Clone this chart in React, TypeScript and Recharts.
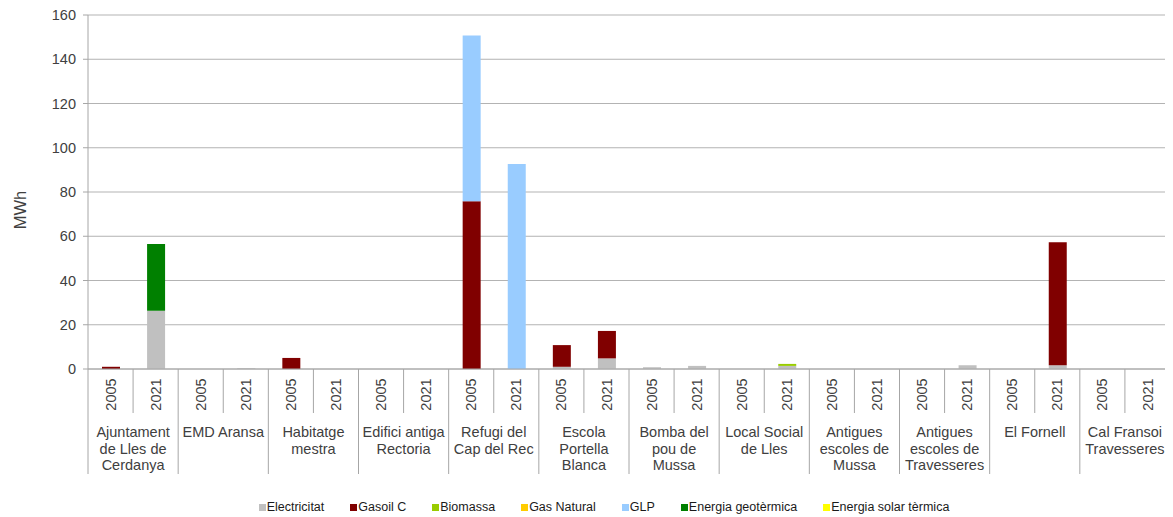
import React from 'react';
import { BarChart, Bar, XAxis, YAxis, CartesianGrid, Legend } from 'recharts';

const buildings = [
  'Ajuntament\nde Lles de\nCerdanya',
  'EMD Aransa',
  'Habitatge\nmestra',
  'Edifici antiga\nRectoria',
  'Refugi del\nCap del Rec',
  'Escola\nPortella\nBlanca',
  'Bomba del\npou de\nMussa',
  'Local Social\nde Lles',
  'Antigues\nescoles de\nMussa',
  'Antigues\nescoles de\nTravesseres',
  'El Fornell',
  'Cal Fransoi\nTravesseres',
];
const years = ['2005', '2021'];

// one value per bar: building x year, in order
const electricitat = [0, 26.3, 0, 0.4, 0, 0, 0, 0, 0, 0, 1, 4.8, 0.8, 1.4, 0, 1.4, 0, 0, 0, 1.7, 0, 1.7, 0, 0];
const gasoil = [1, 0, 0, 0, 5, 0, 0, 0, 75.8, 0, 9.8, 12.4, 0, 0, 0, 0, 0, 0, 0, 0, 0, 55.6, 0, 0];
const biomassa = [0, 0, 0, 0, 0, 0, 0, 0, 0, 0, 0, 0, 0, 0, 0, 0.9, 0, 0, 0, 0, 0, 0, 0, 0];
const gasNatural = [0, 0, 0, 0, 0, 0, 0, 0, 0, 0, 0, 0, 0, 0, 0, 0, 0, 0, 0, 0, 0, 0, 0, 0];
const glp = [0, 0, 0, 0, 0, 0, 0, 0, 74.9, 92.7, 0, 0, 0, 0, 0, 0, 0, 0, 0, 0, 0, 0, 0, 0];
const geotermica = [0, 30.2, 0, 0, 0, 0, 0, 0, 0, 0, 0, 0, 0, 0, 0, 0, 0, 0, 0, 0, 0, 0, 0, 0];
const solar = [0, 0, 0, 0, 0, 0, 0, 0, 0, 0, 0, 0, 0, 0, 0, 0, 0, 0, 0, 0, 0, 0, 0, 0];

const yTicks = [0, 20, 40, 60, 80, 100, 120, 140, 160];

const series = [
  { key: 'elec', name: 'Electricitat', color: '#C0C0C0', values: electricitat },
  { key: 'gasoil', name: 'Gasoil C', color: '#800000', values: gasoil },
  { key: 'bio', name: 'Biomassa', color: '#99CC00', values: biomassa },
  { key: 'gas', name: 'Gas Natural', color: '#FFCC00', values: gasNatural },
  { key: 'glp', name: 'GLP', color: '#99CCFF', values: glp },
  { key: 'geo', name: 'Energia geotèrmica', color: '#008000', values: geotermica },
  { key: 'solar', name: 'Energia solar tèrmica', color: '#FFFF00', values: solar },
];

const data = buildings.flatMap((b, bi) =>
  years.map((year, yi) => {
    const i = bi * 2 + yi;
    const row: Record<string, any> = { year, building: b };
    series.forEach((s) => (row[s.key] = s.values[i]));
    return row;
  })
);

const W = 1165;
const H = 509;
const margin = { top: 7, right: 3, left: 30, bottom: 0 };
const Y_W = 50;
const BAND = (W - margin.left - margin.right - Y_W) / data.length;
const FONT = '"Liberation Sans", Arial, sans-serif';
const LINE = '#A6A6A6';
const TEXT = '#404040';

function YearTick(props: any) {
  const { x, y, index, payload } = props;
  const first = index % 2 === 0;
  const left = x - BAND / 2;
  const lines = first ? buildings[index / 2].split('\n') : [];
  return (
    <g>
      <line x1={left} x2={left} y1={y} y2={y + (first ? 105 : 44)} stroke={LINE} />
      {index === data.length - 1 && (
        <line x1={x + BAND / 2} x2={x + BAND / 2} y1={y} y2={y + 105} stroke={LINE} />
      )}
      <text
        transform={`translate(${x},${y + 25.5}) rotate(-90)`}
        textAnchor="middle"
        dy="0.35em"
        fontSize={14.5}
        fill={TEXT}
        fontFamily={FONT}
      >
        {payload.value}
      </text>
      {lines.map((l, i) => (
        <text
          key={i}
          x={x + BAND / 2}
          y={y + 68 + i * 16.5}
          textAnchor="middle"
          fontSize={14.5}
          fill={TEXT}
          fontFamily={FONT}
        >
          {l}
        </text>
      ))}
    </g>
  );
}

function LegendContent() {
  return (
    <div
      style={{
        height: 20,
        display: 'flex',
        justifyContent: 'center',
        alignItems: 'center',
        fontFamily: FONT,
        fontSize: 12.5,
        color: '#1a1a1a',
      }}
    >
      {series.map((s, i) => (
        <div key={s.key} style={{ display: 'flex', alignItems: 'center', marginLeft: i ? 26 : 0 }}>
          <span style={{ width: 7, height: 7, background: s.color, marginRight: 1, display: 'inline-block' }} />
          <span>{s.name}</span>
        </div>
      ))}
    </div>
  );
}

export default function App() {
  return (
    <BarChart width={W} height={H} data={data} margin={margin} barSize={18}>
      <CartesianGrid vertical={false} stroke="#B3B3B3" />
      <XAxis
        dataKey="year"
        interval={0}
        height={128}
        tickSize={0}
        tickMargin={0}
        tickLine={false}
        axisLine={{ stroke: LINE }}
        tick={(p: any) => <YearTick {...p} />}
      />
      <YAxis
        width={Y_W}
        domain={[0, 160]}
        ticks={yTicks}
        interval={0}
        tickSize={5}
        tickMargin={7}
        axisLine={{ stroke: LINE }}
        tickLine={{ stroke: LINE }}
        tick={{ fontSize: 14.5, fill: TEXT, fontFamily: FONT }}
        label={{
          content: (p: any) => {
            const vb = p.viewBox;
            const cx = vb.x - 18;
            const cy = vb.y + vb.height / 2 + 18;
            return (
              <text
                transform={`translate(${cx},${cy}) rotate(-90)`}
                textAnchor="middle"
                dy="0.35em"
                fontSize={16.5}
                fill={TEXT}
                fontFamily={FONT}
              >
                MWh
              </text>
            );
          },
        }}
      />
      <Legend verticalAlign="bottom" content={() => <LegendContent />} />
      {series.map((s) => (
        <Bar key={s.key} dataKey={s.key} name={s.name} stackId="a" fill={s.color} isAnimationActive={false} />
      ))}
    </BarChart>
  );
}
